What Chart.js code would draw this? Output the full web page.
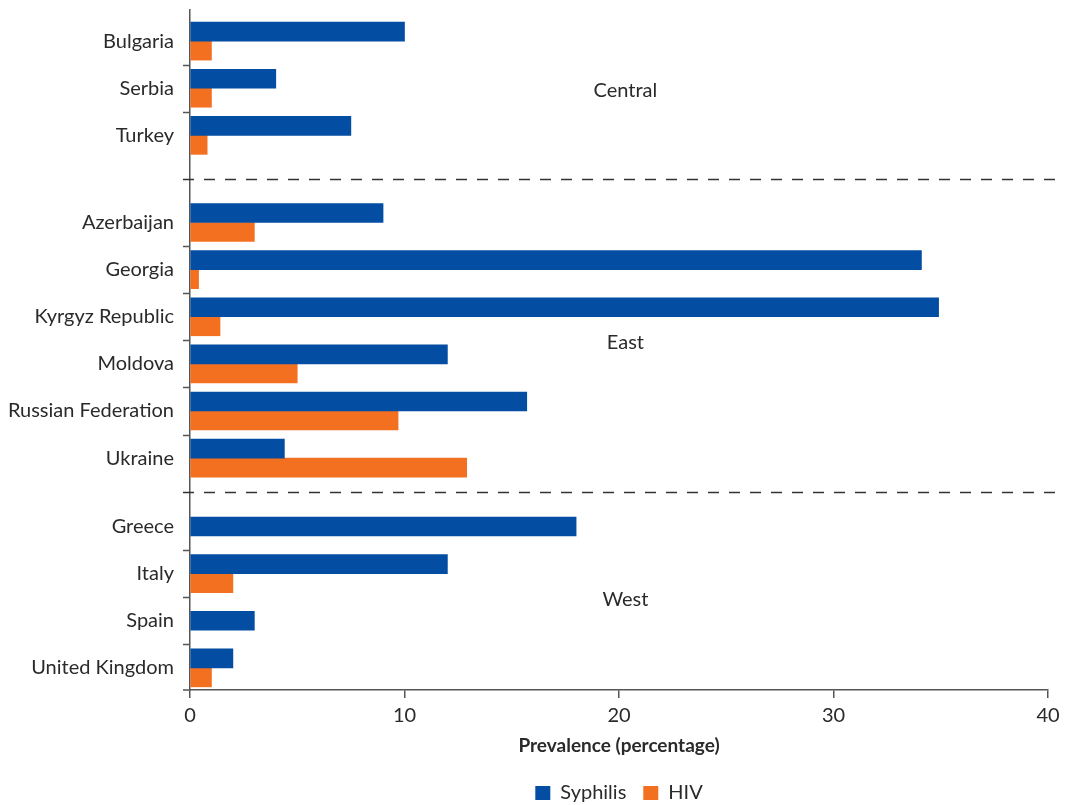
<!DOCTYPE html>
<html>
<head>
<meta charset="utf-8">
<title>Syphilis and HIV prevalence</title>
<script src="https://cdn.jsdelivr.net/npm/chart.js@4.4.1/dist/chart.umd.min.js"></script>
<style>
  html, body { margin: 0; padding: 0; background: #fff; }
  #wrap { width: 1068px; height: 805px; position: relative; }
</style>
</head>
<body>
<div id="wrap"><canvas id="prevChart"></canvas></div>
<script>
// --- data ---
const countries = ['Bulgaria', 'Serbia', 'Turkey', 'Azerbaijan', 'Georgia', 'Kyrgyz Republic', 'Moldova',
                   'Russian Federation', 'Ukraine', 'Greece', 'Italy', 'Spain', 'United Kingdom'];
const regions   = ['Central', 'Central', 'Central', 'East', 'East', 'East', 'East',
                   'East', 'East', 'West', 'West', 'West', 'West'];
const syphilis  = [10, 4, 7.5, 9, 34.1, 34.9, 12, 15.7, 4.4, 18, 12, 3, 2];
const hiv       = [1, 1, 0.8, 3, 0.4, 1.4, 5, 9.7, 12.9, null, 2, null, 1];
const xTicks    = [0, 10, 20, 30, 40];

// --- layout helpers (not data) ---
const TEXT = '#2a2a2a';
const AXIS = '#555';
const FONT = 'Lato, "Open Sans", sans-serif';
const regionGap = { Central: 0, East: 0.85, West: 1.3 }; // extra space before each block
const rowPos = countries.map((c, i) => i + regionGap[regions[i]]);
const regionNames = [...new Set(regions)];

// ticks between rows, dashed lines between regions, region names
const regionPlugin = {
    id: 'regionMarks',
    afterDraw(chart) {
        const { ctx, chartArea, scales: { x, y } } = chart;
        ctx.save();

        // small ticks left of the y axis between rows of the same region
        ctx.strokeStyle = AXIS;
        ctx.lineWidth = 1.5;
        ctx.beginPath();
        for (let i = 0; i < rowPos.length - 1; i++) {
            if (regions[i] !== regions[i + 1]) continue;
            const py = Math.round(y.getPixelForValue((rowPos[i] + rowPos[i + 1]) / 2)) + 0.5;
            ctx.moveTo(chartArea.left - 7, py);
            ctx.lineTo(chartArea.left, py);
        }
        ctx.moveTo(chartArea.left - 7, chartArea.bottom);
        ctx.lineTo(chartArea.left, chartArea.bottom);
        ctx.stroke();

        // dashed separators
        ctx.strokeStyle = '#333';
        ctx.setLineDash([11, 10]);
        ctx.beginPath();
        for (let i = 0; i < rowPos.length - 1; i++) {
            if (regions[i] === regions[i + 1]) continue;
            const py = Math.round(y.getPixelForValue((rowPos[i] + rowPos[i + 1]) / 2)) + 0.5;
            ctx.moveTo(chartArea.left - 7, py);
            ctx.lineTo(chartArea.right + 8, py);
        }
        ctx.stroke();
        ctx.setLineDash([]);

        // region names in the middle of each block
        ctx.fillStyle = TEXT;
        ctx.font = '20px ' + FONT;
        ctx.textAlign = 'center';
        ctx.textBaseline = 'middle';
        regionNames.forEach(r => {
            const rows = rowPos.filter((p, i) => regions[i] === r);
            const mid = (rows[0] + rows[rows.length - 1]) / 2;
            ctx.fillText(r, x.getPixelForValue(20.3), y.getPixelForValue(mid) + 2);
        });
        ctx.restore();
    }
};

const ctx = document.getElementById('prevChart');

new Chart(ctx, {
    type: 'bar',
    data: {
        datasets: [
            {
                label: 'Syphilis',
                data: syphilis.map((v, i) => ({ x: v, y: rowPos[i] })),
                backgroundColor: '#034EA2'
            },
            {
                label: 'HIV',
                data: hiv.map((v, i) => ({ x: v, y: rowPos[i] })),
                backgroundColor: '#F37021'
            }
        ]
    },
    options: {
        indexAxis: 'y',
        responsive: true,
        maintainAspectRatio: false,
        animation: false,
        skipNull: true,
        barThickness: 19,
        layout: { padding: { top: 10, right: 20, left: 0, bottom: -8 } },
        scales: {
            y: {
                type: 'linear',
                reverse: true,
                offset: false,
                min: -0.66,
                max: 13.77,
                afterFit(scale) {
                    scale.width = 190;
                    scale.paddingTop = 0;
                    scale.paddingBottom = 0;
                },
                afterBuildTicks(scale) {
                    scale.ticks = rowPos.map(v => ({ value: v }));
                },
                ticks: {
                    padding: 16,
                    color: TEXT,
                    font: { family: FONT, size: 20 },
                    callback: (value) => countries[rowPos.indexOf(value)]
                },
                grid: { display: false, drawTicks: false, offset: false },
                border: { display: true, color: AXIS, width: 1.5 }
            },
            x: {
                type: 'linear',
                min: 0,
                max: 40,
                afterFit(scale) { scale.height = 76; },
                afterBuildTicks(scale) {
                    scale.ticks = xTicks.map(v => ({ value: v }));
                },
                ticks: {
                    padding: 6,
                    color: TEXT,
                    font: { family: FONT, size: 20 }
                },
                grid: {
                    drawOnChartArea: false,
                    drawTicks: true,
                    tickLength: 8,
                    color: AXIS,
                    lineWidth: 1.5
                },
                border: { display: true, color: AXIS, width: 1.5 },
                title: {
                    display: true,
                    text: 'Prevalence (percentage)',
                    color: TEXT,
                    font: { family: FONT, size: 19, weight: 'bold' },
                    padding: { top: 4, bottom: 9 }
                }
            }
        },
        plugins: {
            legend: {
                position: 'bottom',
                fullSize: false,
                labels: {
                    color: TEXT,
                    font: { family: FONT, size: 20 },
                    boxWidth: 15,
                    boxHeight: 14,
                    padding: 17
                }
            },
            tooltip: { enabled: false }
        }
    },
    plugins: [regionPlugin]
});
</script>
</body>
</html>
